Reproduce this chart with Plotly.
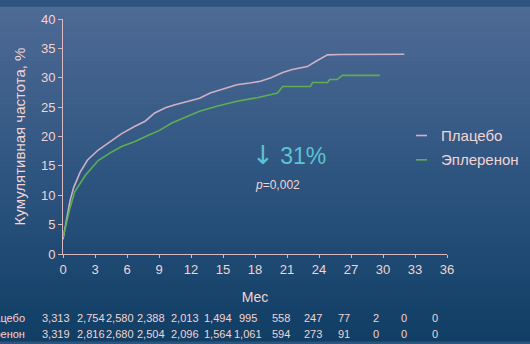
import plotly.graph_objects as go

# Cumulative incidence, % by month of follow-up
placebo_months = [0, 0.2, 0.4, 0.65, 1.0, 1.6, 2.3, 3.3, 4.5, 5.5, 6.7, 7.7, 8.6, 9.6,
                  10.5, 11.9, 12.8, 13.8, 14.5, 15.2, 16.3, 17.5, 18.5, 19.5, 20.6,
                  21.5, 22.9, 23.8, 24.8, 26.0, 28.0, 30.0, 32.0]
placebo_pct = [2.5, 4.5, 6.5, 9.0, 11.3, 13.9, 16.0, 17.7, 19.2, 20.5, 21.7, 22.6, 24.0,
               24.9, 25.4, 26.0, 26.5, 27.4, 27.8, 28.3, 28.8, 29.1, 29.4, 30.0, 30.9,
               31.4, 31.9, 32.9, 33.9, 33.95, 34.0, 34.0, 34.0]

epl_months = [0, 0.2, 0.4, 0.65, 1.1, 2.1, 3.3, 4.5, 5.5, 6.8, 8.0, 9.0, 10.2, 11.5,
              12.8, 14.5, 16.3, 18.2, 20.1, 20.6, 21.1, 23.2, 23.4, 24.8, 25.0, 25.7,
              26.2, 27.5, 29.7]
epl_pct = [2.8, 4.5, 6.0, 7.8, 10.6, 13.4, 15.9, 17.3, 18.3, 19.2, 20.2, 21.0, 22.3,
           23.3, 24.3, 25.2, 26.0, 26.6, 27.4, 28.5, 28.5, 28.5, 29.2, 29.2, 29.7, 29.7,
           30.4, 30.4, 30.4]

x_ticks = list(range(0, 37, 3))
y_ticks = list(range(0, 41, 5))

# Numbers at risk
risk_labels = ["Плацебо", "Эплеренон"]
risk_placebo = ["3,313", "2,754", "2,580", "2,388", "2,013", "1,494", "995", "558",
                "247", "77", "2", "0", "0"]
risk_epl = ["3,319", "2,816", "2,680", "2,504", "2,096", "1,564", "1,061", "594",
            "273", "91", "0", "0", "0"]

series_names = ["Плацебо", "Эплеренон"]
reduction_pct = "31%"
p_text = "<i>p</i>=0,002"

# ---- styling ----
TEXT = "#f4d4d0"
AXIS = "#d9b9bf"
C_PLACEBO = "#cfb0c6"
C_EPL = "#5fae52"
FONT = "Liberation Sans, Arial, sans-serif"
W, H = 530, 344
L, R, T, B = 63, 83, 12, 90
plot_w, plot_h = W - L - R, H - T - B

# column centres (in months) for the at-risk table
risk_cols = [-0.66, 2.62, 5.34, 8.25, 11.44, 14.53, 17.34, 20.44, 23.44, 26.34,
             29.34, 31.97, 34.87]

fig = go.Figure()
fig.add_trace(go.Scatter(x=placebo_months, y=placebo_pct, mode="lines",
                         line=dict(color=C_PLACEBO, width=1.6), name=series_names[0],
                         showlegend=False))
fig.add_trace(go.Scatter(x=epl_months, y=epl_pct, mode="lines",
                         line=dict(color=C_EPL, width=1.6), name=series_names[1],
                         showlegend=False))

# vertical gradient background as thin bands
shapes = []
top = (78, 106, 149)
mid = (46, 85, 128)
bot = (16, 62, 101)
n = 86
for i in range(n):
    f = i / (n - 1)
    if f < 0.5:
        g = f / 0.5
        c = [round(top[k] + (mid[k] - top[k]) * g) for k in range(3)]
    else:
        g = (f - 0.5) / 0.5
        c = [round(mid[k] + (bot[k] - mid[k]) * g) for k in range(3)]
    y0 = H - (i + 1) * H / n
    y1 = H - i * H / n + 0.5
    shapes.append(dict(type="rect", xref="paper", yref="paper", layer="below",
                       x0=(-L) / plot_w, x1=(W - L) / plot_w,
                       y0=(y0 - B) / plot_h, y1=(y1 - B) / plot_h,
                       line=dict(width=0), fillcolor=f"rgb({c[0]},{c[1]},{c[2]})"))


def px_x(px):
    return (px - L) / plot_w


def px_y(py):
    return (H - B - py) / plot_h


# legend swatches
for py, col in [(132, C_PLACEBO), (157, C_EPL)]:
    shapes.append(dict(type="line", xref="paper", yref="paper",
                       x0=px_x(416), x1=px_x(427), y0=px_y(py), y1=px_y(py),
                       line=dict(color=col, width=1.6)))

annotations = []
for py, name in [(132, series_names[0]), (157, series_names[1])]:
    annotations.append(dict(x=px_x(439), y=px_y(py), xref="paper", yref="paper",
                            text=name, showarrow=False, xanchor="left", yanchor="middle",
                            font=dict(size=15, color=TEXT, family=FONT)))

annotations.append(dict(
    x=px_x(250), y=px_y(152), xref="paper", yref="paper",
    text=("<span style='font-family:DejaVu Sans;font-size:26px'>↓</span>"
          " " + reduction_pct),
    showarrow=False, xanchor="left", yanchor="middle",
    font=dict(size=23, color="#5cc3d3", family=FONT)))
annotations.append(dict(x=px_x(253), y=px_y(183), xref="paper", yref="paper",
                        text=p_text, showarrow=False, xanchor="left", yanchor="middle",
                        font=dict(size=12, color=TEXT, family=FONT)))

# at-risk table
for row_py, label, vals in [(320, risk_labels[0], risk_placebo),
                            (336, risk_labels[1], risk_epl)]:
    annotations.append(dict(x=px_x(27), y=px_y(row_py), xref="paper", yref="paper",
                            text=label, showarrow=False, xanchor="right",
                            yanchor="middle", font=dict(size=11, color=TEXT, family=FONT)))
    for xc, v in zip(risk_cols, vals):
        annotations.append(dict(x=xc / 36, y=px_y(row_py), xref="paper", yref="paper",
                                text=v, showarrow=False, xanchor="center",
                                yanchor="middle",
                                font=dict(size=11, color=TEXT, family=FONT)))

fig.update_layout(
    width=W, height=H,
    margin=dict(l=L, r=R, t=T, b=B),
    paper_bgcolor="#2e5580", plot_bgcolor="rgba(0,0,0,0)",
    font=dict(family=FONT, color=TEXT, size=13),
    shapes=shapes, annotations=annotations, showlegend=False,
    xaxis=dict(range=[0, 36], tickvals=x_ticks, ticktext=[str(t) for t in x_ticks],
               showgrid=False, zeroline=False, showline=True, linecolor=AXIS,
               linewidth=1, ticks="outside", ticklen=3, tickcolor=AXIS,
               tickfont=dict(size=13, color=TEXT), fixedrange=True,
               title=dict(text="Мес", font=dict(size=14, color=TEXT), standoff=16)),
    yaxis=dict(range=[0, 40], tickvals=y_ticks, showgrid=False, zeroline=False,
               showline=True, linecolor=AXIS, linewidth=1, ticks="outside",
               ticklen=4, tickcolor=AXIS, tickfont=dict(size=13, color=TEXT),
               fixedrange=True,
               title=dict(text="Кумулятивная частота, %",
                          font=dict(size=15, color=TEXT), standoff=11)),
)

fig.write_html("out.html")
